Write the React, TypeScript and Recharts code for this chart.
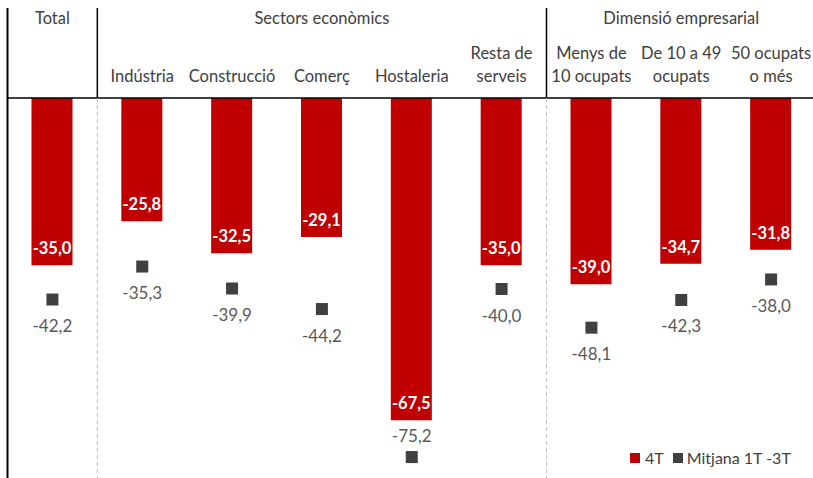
import React from 'react';
import { ComposedChart, Bar, Line, XAxis, YAxis, LabelList } from 'recharts';

const categories = [
  'Total',
  'Indústria',
  'Construcció',
  'Comerç',
  'Hostaleria',
  'Resta de serveis',
  'Menys de 10 ocupats',
  'De 10 a 49 ocupats',
  '50 ocupats o més',
];
const tickLines: string[][] = [
  [],
  ['Indústria'],
  ['Construcció'],
  ['Comerç'],
  ['Hostaleria'],
  ['Resta de', 'serveis'],
  ['Menys de', '10 ocupats'],
  ['De 10 a 49', 'ocupats'],
  ['50 ocupats', 'o més'],
];
const series4T = [-35.0, -25.8, -32.5, -29.1, -67.5, -35.0, -39.0, -34.7, -31.8];
const seriesAvg = [-42.2, -35.3, -39.9, -44.2, -75.2, -40.0, -48.1, -42.3, -38.0];
const groupLabels = [
  { index: 0, label: 'Total' },
  { index: 3, label: 'Sectors econòmics' },
  { index: 7, label: 'Dimensió empresarial' },
];
const groupStarts = [1, 6];
const seriesNames = ['4T', 'Mitjana 1T -3T'];
const yDomain = [-80, 0];

const data = categories.map((c, i) => ({ name: c, t4: series4T[i], avg: seriesAvg[i] }));

const W = 816;
const H = 480;
const ML = 7.5;
const AXIS_H = 98;
const BAND = (W - ML) / categories.length;
const RED = '#C00000';
const DARK = '#404040';
const TEXT = '#404040';
const FONT = 'Lato, "Liberation Sans", sans-serif';
const FS = 16.5;

const fmt = (v: number) => v.toFixed(1).replace('.', ',');

const Tick = (props: any) => {
  const { x, index } = props;
  const lines = tickLines[index] || [];
  const grp = groupLabels.find((g) => g.index === index);
  const n = lines.length;
  return (
    <g>
      {index === 0 && (
        <line x1={x - BAND / 2} x2={x - BAND / 2} y1={8} y2={H} stroke="#000" strokeWidth={2} />
      )}
      {groupStarts.includes(index) && (
        <g>
          <line x1={x - BAND / 2} x2={x - BAND / 2} y1={8} y2={AXIS_H} stroke="#000" strokeWidth={1.5} />
          <line
            x1={x - BAND / 2}
            x2={x - BAND / 2}
            y1={AXIS_H}
            y2={H}
            stroke="#BFBFBF"
            strokeWidth={1}
            strokeDasharray="4 3"
          />
        </g>
      )}
      {grp && (
        <text x={x} y={18} textAnchor="middle" dominantBaseline="central" fill={TEXT} fontSize={FS} fontFamily={FONT}>
          {grp.label}
        </text>
      )}
      {lines.map((l, k) => (
        <text
          key={k}
          x={x}
          y={76 - (n - 1 - k) * 23}
          textAnchor="middle"
          dominantBaseline="central"
          fill={TEXT}
          fontSize={FS}
          fontFamily={FONT}
        >
          {l}
        </text>
      ))}
    </g>
  );
};

const BarLabel = (props: any) => {
  const { x, y, width, height, value } = props;
  const bottom = Math.max(y, y + height);
  return (
    <text
      x={x + width / 2}
      y={bottom - 17}
      textAnchor="middle"
      dominantBaseline="central"
      fill="#fff"
      fontWeight="bold"
      fontSize={FS}
      fontFamily={FONT}
    >
      {fmt(value)}
    </text>
  );
};

const AvgLabel = (props: any) => {
  const { x, y, value } = props;
  const below = y + 26 < H - 20;
  return (
    <text
      x={x}
      y={below ? y + 26 : y - 22}
      textAnchor="middle"
      dominantBaseline="central"
      fill="#595959"
      fontSize={17}
      fontFamily={FONT}
    >
      {fmt(value)}
    </text>
  );
};

const Square = (props: any) => {
  const { cx, cy, index } = props;
  if (cx == null || cy == null) return <g key={index} />;
  return <rect key={index} x={cx - 6} y={cy - 6} width={12} height={12} fill={DARK} />;
};

export default function App() {
  return (
    <div
      style={{
        position: 'absolute',
        left: 0,
        top: 0,
        width: 813,
        height: 478,
        overflow: 'hidden',
        background: '#fff',
        fontFamily: FONT,
      }}
    >
      <ComposedChart width={W} height={H} data={data} margin={{ top: 0, right: 0, bottom: 0, left: ML }}>
        <XAxis
          dataKey="name"
          orientation="top"
          height={AXIS_H}
          axisLine={{ stroke: '#000', strokeWidth: 1.5 }}
          tickLine={false}
          interval={0}
          tick={<Tick />}
        />
        <YAxis hide domain={yDomain} />
        <Bar dataKey="t4" fill={RED} barSize={41} isAnimationActive={false}>
          <LabelList dataKey="t4" content={<BarLabel />} />
        </Bar>
        <Line
          dataKey="avg"
          stroke="none"
          dot={<Square />}
          activeDot={false}
          isAnimationActive={false}
        >
          <LabelList dataKey="avg" content={<AvgLabel />} />
        </Line>
      </ComposedChart>
      <div
        style={{
          position: 'absolute',
          left: 630,
          top: 448,
          display: 'flex',
          alignItems: 'center',
          fontSize: 16,
          color: TEXT,
          whiteSpace: 'nowrap',
        }}
      >
        <span style={{ display: 'inline-block', width: 10, height: 10, background: RED, marginRight: 5 }} />
        <span style={{ marginRight: 9 }}>{seriesNames[0]}</span>
        <span style={{ display: 'inline-block', width: 10, height: 10, background: DARK, marginRight: 4 }} />
        <span>{seriesNames[1]}</span>
      </div>
    </div>
  );
}
